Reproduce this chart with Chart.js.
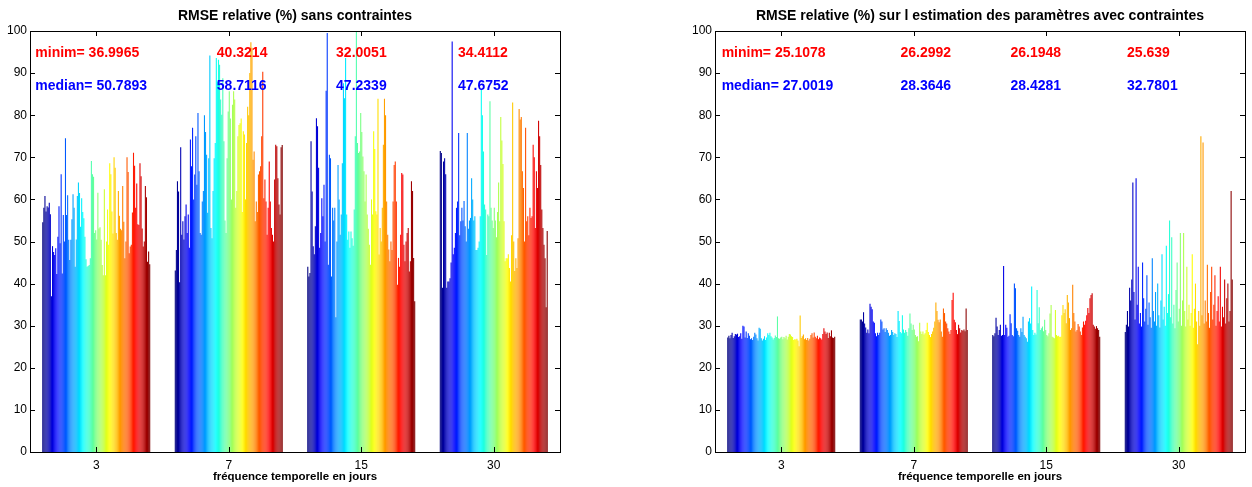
<!DOCTYPE html>
<html>
<head>
<meta charset="utf-8">
<script src="https://cdn.jsdelivr.net/npm/chart.js@4"></script>
<style>
  body { margin: 0; background: #fff; width: 1252px; height: 487px; overflow: hidden; position: relative; }
  canvas { position: absolute; top: 0; }
  #left { left: 0; }
  #right { left: 685px; }
</style>
</head>
<body>
<canvas id="left" width="566" height="487"></canvas>
<canvas id="right" width="566" height="487"></canvas>
<script>
// groupes (fréquence temporelle en jours)
const categories = ['3', '7', '15', '30'];

// RMSE relative (%) sans contraintes, 100 barres par groupe
const sans3 = [54.6, 58.0, 60.8, 57.1, 58.4, 58.1, 59.2, 56.5, 37.0, 48.9,
  47.5, 46.8, 48.4, 42.3, 51.1, 58.4, 49.6, 66.0, 42.4, 56.3,
  50.0, 74.5, 56.3, 61.0, 50.4, 45.6, 50.4, 55.3, 61.2, 58.0,
  44.0, 50.5, 60.8, 64.0, 61.5, 53.5, 60.3, 57.0, 55.5, 51.1,
  45.8, 44.0, 44.2, 44.4, 46.0, 69.1, 66.0, 65.4, 52.0, 52.7,
  50.5, 61.6, 53.1, 53.4, 50.4, 44.4, 42.0, 62.4, 42.0, 50.0,
  57.6, 49.2, 68.6, 66.0, 57.1, 51.9, 70.0, 67.5, 52.0, 50.4,
  62.0, 56.1, 53.0, 52.7, 63.2, 54.7, 46.0, 50.0, 70.0, 66.5,
  47.2, 48.8, 49.2, 56.9, 71.1, 68.0, 58.0, 63.8, 54.1, 53.9,
  68.6, 65.5, 53.1, 48.8, 50.0, 63.2, 60.5, 45.2, 47.6, 44.6];
const sans7 = [43.1, 48.0, 64.3, 61.9, 40.3, 72.4, 51.6, 54.8, 50.5, 56.0,
  58.8, 52.0, 56.4, 48.5, 74.2, 67.9, 77.0, 60.0, 65.9, 75.0,
  63.5, 80.5, 66.7, 52.0, 51.6, 59.5, 62.0, 80.0, 76.0, 70.6,
  56.8, 69.8, 94.2, 53.2, 50.8, 62.0, 69.8, 73.4, 93.6, 88.0,
  93.2, 92.0, 83.7, 80.1, 88.8, 73.8, 55.0, 52.0, 69.8, 80.9,
  85.7, 79.2, 60.0, 82.5, 85.7, 83.7, 58.0, 62.0, 75.0, 77.7,
  78.1, 79.2, 57.0, 76.2, 75.4, 60.0, 73.4, 82.0, 80.0, 90.0,
  97.3, 96.0, 69.4, 71.4, 54.8, 59.5, 57.0, 65.9, 66.7, 67.9,
  75.0, 90.3, 60.3, 64.7, 59.5, 51.6, 58.0, 69.0, 59.5, 53.2,
  51.6, 50.0, 64.7, 73.0, 72.6, 65.0, 58.8, 56.4, 72.4, 72.9];
const sans15 = [44.0, 41.7, 42.5, 73.8, 61.9, 48.9, 47.0, 53.6, 79.3, 77.4,
  67.5, 48.5, 52.0, 60.3, 56.0, 63.5, 50.0, 85.8, 99.5, 44.5,
  70.6, 69.8, 41.7, 58.0, 55.0, 58.0, 32.0, 50.0, 68.2, 60.0,
  51.6, 56.4, 68.6, 87.6, 84.0, 93.6, 56.4, 50.4, 52.4, 48.5,
  52.4, 50.8, 49.0, 57.6, 75.0, 100.0, 73.4, 71.0, 71.4, 80.5,
  76.0, 70.2, 66.7, 59.5, 65.9, 56.4, 53.0, 49.2, 44.5, 60.0,
  56.4, 76.2, 72.0, 57.2, 56.4, 83.9, 46.9, 53.2, 50.0, 58.0,
  73.0, 83.9, 80.0, 59.5, 51.6, 48.1, 45.3, 50.0, 48.0, 59.5,
  68.2, 69.0, 59.5, 39.7, 46.1, 44.0, 51.6, 66.3, 65.9, 49.2,
  45.3, 50.0, 52.0, 53.2, 42.9, 45.3, 64.3, 62.0, 46.1, 35.8];
const sans30 = [71.5, 71.0, 39.0, 69.0, 69.8, 66.0, 39.0, 40.5, 40.5, 41.3,
  45.0, 97.5, 47.0, 48.5, 52.0, 58.0, 59.5, 75.8, 51.5, 54.8,
  58.0, 55.0, 59.6, 53.6, 50.0, 75.8, 53.0, 55.0, 55.6, 65.0,
  60.0, 55.0, 56.0, 48.0, 48.0, 48.5, 50.0, 56.0, 86.1, 80.0,
  71.4, 58.8, 57.6, 46.8, 56.4, 56.0, 83.3, 58.0, 55.0, 53.2,
  58.0, 55.0, 51.0, 57.0, 64.0, 54.8, 79.6, 74.0, 68.4, 54.8,
  45.3, 46.0, 46.0, 47.0, 43.7, 40.5, 51.5, 83.0, 50.0, 43.0,
  46.0, 43.7, 50.8, 81.5, 79.0, 79.6, 66.7, 62.7, 50.0, 77.0,
  54.8, 56.0, 51.5, 58.0, 55.6, 56.0, 73.0, 70.0, 53.2, 66.7,
  62.7, 78.7, 75.0, 68.2, 57.6, 53.2, 49.2, 46.0, 34.4, 52.5];

// RMSE relative (%) avec contraintes
const avec3 = [27.2, 27.6, 27.0, 27.8, 28.3, 27.1, 27.5, 28.0, 27.9, 28.1,
  27.3, 27.5, 28.2, 26.9, 30.0, 29.8, 27.2, 28.6, 27.1, 28.2,
  27.6, 26.8, 27.0, 26.6, 27.4, 28.3, 27.9, 27.0, 26.5, 29.5,
  29.3, 27.0, 26.5, 26.9, 27.5, 26.6, 27.2, 28.2, 27.8, 28.3,
  27.5, 27.2, 26.7, 27.1, 27.7, 27.3, 32.2, 27.0, 26.9, 27.2,
  27.4, 26.8, 27.3, 27.0, 27.6, 26.7, 27.4, 28.0, 27.9, 27.5,
  27.3, 26.6, 26.8, 26.7, 26.9, 26.5, 25.1, 32.4, 27.1, 27.5,
  27.9, 26.8, 27.0, 26.6, 27.1, 26.5, 26.9, 27.8, 28.2, 27.2,
  28.4, 27.4, 27.0, 27.6, 26.8, 27.2, 27.0, 26.7, 28.0, 29.4,
  28.6, 28.0, 28.4, 27.1, 28.3, 27.5, 28.9, 27.2, 27.1, 27.4];
const avec7 = [31.5, 31.5, 31.0, 33.2, 30.5, 29.6, 28.3, 29.1, 28.2, 35.2,
  34.5, 33.9, 31.0, 30.7, 28.2, 27.5, 28.3, 27.8, 28.3, 31.5,
  31.0, 29.1, 29.4, 28.5, 29.4, 29.0, 28.3, 27.6, 27.8, 29.0,
  28.5, 27.8, 28.2, 28.0, 27.3, 33.5, 31.1, 28.5, 28.2, 32.5,
  29.1, 28.3, 29.0, 28.5, 27.6, 29.4, 32.9, 30.5, 29.0, 30.2,
  29.1, 27.8, 27.4, 27.5, 26.3, 30.7, 28.6, 28.0, 28.6, 27.9,
  28.2, 29.0, 30.7, 28.5, 27.8, 27.3, 28.0, 28.6, 29.5, 31.0,
  35.5, 33.5, 31.4, 30.8, 31.5, 28.6, 27.4, 34.1, 33.0, 31.0,
  30.5, 29.4, 28.6, 28.0, 29.0, 36.1, 37.8, 31.4, 30.8, 29.0,
  28.0, 30.2, 29.4, 28.4, 29.0, 28.8, 29.1, 28.7, 34.1, 29.0];
const avec15 = [27.8, 27.5, 28.2, 31.9, 29.8, 27.8, 29.0, 30.2, 27.6, 27.8,
  44.2, 27.8, 30.2, 29.5, 27.4, 27.6, 32.7, 30.6, 27.8, 27.5,
  40.0, 38.9, 29.4, 28.8, 27.8, 27.4, 29.4, 28.5, 32.1, 27.8,
  27.4, 27.0, 26.2, 31.0, 31.8, 30.5, 39.3, 29.0, 27.8, 28.3,
  27.9, 38.5, 30.6, 34.4, 29.0, 29.4, 29.8, 28.7, 31.4, 29.0,
  27.8, 27.5, 28.2, 32.9, 34.9, 27.4, 27.2, 27.0, 33.7, 27.8,
  27.5, 27.6, 27.3, 27.4, 32.5, 34.9, 33.0, 33.9, 30.6, 37.3,
  35.5, 31.8, 29.0, 29.4, 39.7, 33.0, 31.0, 28.6, 29.0, 30.4,
  29.8, 28.6, 27.8, 29.6, 31.0, 30.2, 31.2, 32.5, 34.2, 33.0,
  36.5, 37.3, 37.7, 30.2, 29.8, 29.3, 29.9, 29.4, 29.0, 27.4];
const avec30 = [28.5, 30.2, 33.5, 29.8, 39.0, 36.0, 41.0, 64.0, 38.0, 31.5,
  65.0, 35.0, 44.0, 30.5, 33.0, 29.8, 45.0, 36.5, 31.0, 34.0,
  42.0, 30.2, 35.5, 32.0, 29.5, 46.0, 33.5, 31.0, 38.0, 30.0,
  40.0, 32.5, 29.6, 36.0, 47.0, 31.5, 34.5, 30.0, 49.0, 33.0,
  37.5, 55.0, 32.0, 51.0, 30.5, 35.0, 29.4, 38.5, 45.0, 31.0,
  34.0, 52.0, 30.0, 36.0, 52.0, 33.5, 29.8, 44.0, 31.5, 35.0,
  30.0, 33.0, 47.0, 29.5, 34.0, 40.0, 31.0, 25.6, 33.5, 30.0,
  75.0, 32.5, 73.5, 30.5, 36.0, 31.0, 44.5, 33.0, 29.5, 38.0,
  44.0, 31.5, 35.0, 42.0, 30.0, 33.5, 37.0, 31.0, 44.0, 29.8,
  34.5, 32.0, 41.0, 30.5, 36.5, 40.0, 31.0, 33.5, 62.0, 41.0];

// textes minim / median
const minimSans = ['36.9965', '40.3214', '32.0051', '34.4112'];
const medianSans = ['50.7893', '58.7116', '47.2339', '47.6752'];
const minimAvec = ['25.1078', '26.2992', '26.1948', '25.639'];
const medianAvec = ['27.0019', '28.3646', '28.4281', '32.7801'];

const yTicks = [0, 10, 20, 30, 40, 50, 60, 70, 80, 90, 100];

Chart.defaults.font.family = "'Liberation Sans', Arial, Helvetica, sans-serif";
Chart.defaults.color = '#000';

// colormap jet de matlab
function jet(t) {
    let c = v => Math.round(255 * Math.min(1, Math.max(0, v)));
    let r = c(1.5 - Math.abs(4 * t - 3));
    let g = c(1.5 - Math.abs(4 * t - 2));
    let b = c(1.5 - Math.abs(4 * t - 1));
    return 'rgb(' + r + ',' + g + ',' + b + ')';
}

// boite, ticks vers l'intérieur, titre et textes
const matlabAxes = {
    id: 'matlabAxes',
    afterDatasetsDraw(chart, args, opts) {
        const ctx = chart.ctx;
        const a = chart.chartArea;
        const x = chart.scales.x, y = chart.scales.y;
        ctx.save();
        ctx.strokeStyle = '#000';
        ctx.lineWidth = 1;
        ctx.beginPath();
        yTicks.forEach(v => {
            let py = Math.round(y.getPixelForValue(v)) + 0.5;
            ctx.moveTo(a.left, py); ctx.lineTo(a.left + 5, py);
            ctx.moveTo(a.right, py); ctx.lineTo(a.right - 5, py);
        });
        categories.forEach((c, i) => {
            let px = Math.round(x.getPixelForValue(i)) + 0.5;
            ctx.moveTo(px, a.bottom); ctx.lineTo(px, a.bottom - 5);
            ctx.moveTo(px, a.top); ctx.lineTo(px, a.top + 5);
        });
        ctx.stroke();
        ctx.strokeRect(Math.round(a.left) + 0.5, Math.round(a.top) + 0.5,
            Math.round(a.right - a.left), Math.round(a.bottom - a.top));

        ctx.font = "bold 14px 'Liberation Sans', Arial, sans-serif";
        ctx.textBaseline = 'middle';
        ctx.textAlign = 'center';
        ctx.fillStyle = '#000';
        ctx.fillText(opts.title, (a.left + a.right) / 2, 16);

        ctx.textAlign = 'left';
        opts.minim.forEach((t, i) => {
            let px = x.getPixelForValue(opts.textX[i]);
            ctx.fillStyle = '#ff0000';
            ctx.fillText((i === 0 ? 'minim= ' : '') + t, px, y.getPixelForValue(94.8));
            ctx.fillStyle = '#0000ff';
            ctx.fillText((i === 0 ? 'median= ' : '') + opts.median[i], px, y.getPixelForValue(86.8));
        });
        ctx.restore();
    }
};

function makeChart(id, groups, title, minim, median, textX) {
    const N = groups[0].length;
    const datasets = [];
    for (let i = 0; i < N; i++) {
        datasets.push({
            data: groups.map(g => g[i]),
            backgroundColor: jet(i / (N - 1)),
            borderWidth: 0,
            inflateAmount: 0,
            categoryPercentage: 0.815,
            barPercentage: 1.0
        });
    }
    new Chart(document.getElementById(id), {
        type: 'bar',
        data: { labels: categories, datasets: datasets },
        options: {
            responsive: false,
            animation: false,
            layout: { padding: { top: 31, right: 6, left: 0, bottom: 0 } },
            plugins: {
                legend: { display: false },
                tooltip: { enabled: false },
                matlabAxes: { title: title, minim: minim, median: median, textX: textX }
            },
            scales: {
                x: {
                    grid: { display: false, drawTicks: false },
                    border: { display: false },
                    ticks: { font: { size: 12 }, padding: 6, color: '#000' },
                    title: {
                        display: true,
                        text: 'fréquence temporelle en jours',
                        font: { size: 11.5, weight: 'bold' },
                        color: '#000',
                        padding: { top: 0, bottom: 3 }
                    },
                    afterFit(s) { s.height = 35; }
                },
                y: {
                    min: 0,
                    max: 100,
                    grid: { display: false, drawTicks: false },
                    border: { display: false },
                    ticks: { stepSize: 10, font: { size: 12 }, padding: 3, color: '#000' },
                    afterFit(s) { s.width = 30; }
                }
            }
        },
        plugins: [matlabAxes]
    });
}

makeChart('left', [sans3, sans7, sans15, sans30],
    'RMSE relative (%) sans contraintes',
    minimSans, medianSans, [-0.46, 0.91, 1.81, 2.73]);

makeChart('right', [avec3, avec7, avec15, avec30],
    'RMSE relative (%) sur l estimation des paramètres avec contraintes',
    minimAvec, medianAvec, [-0.45, 0.90, 1.73, 2.61]);
</script>
</body>
</html>
